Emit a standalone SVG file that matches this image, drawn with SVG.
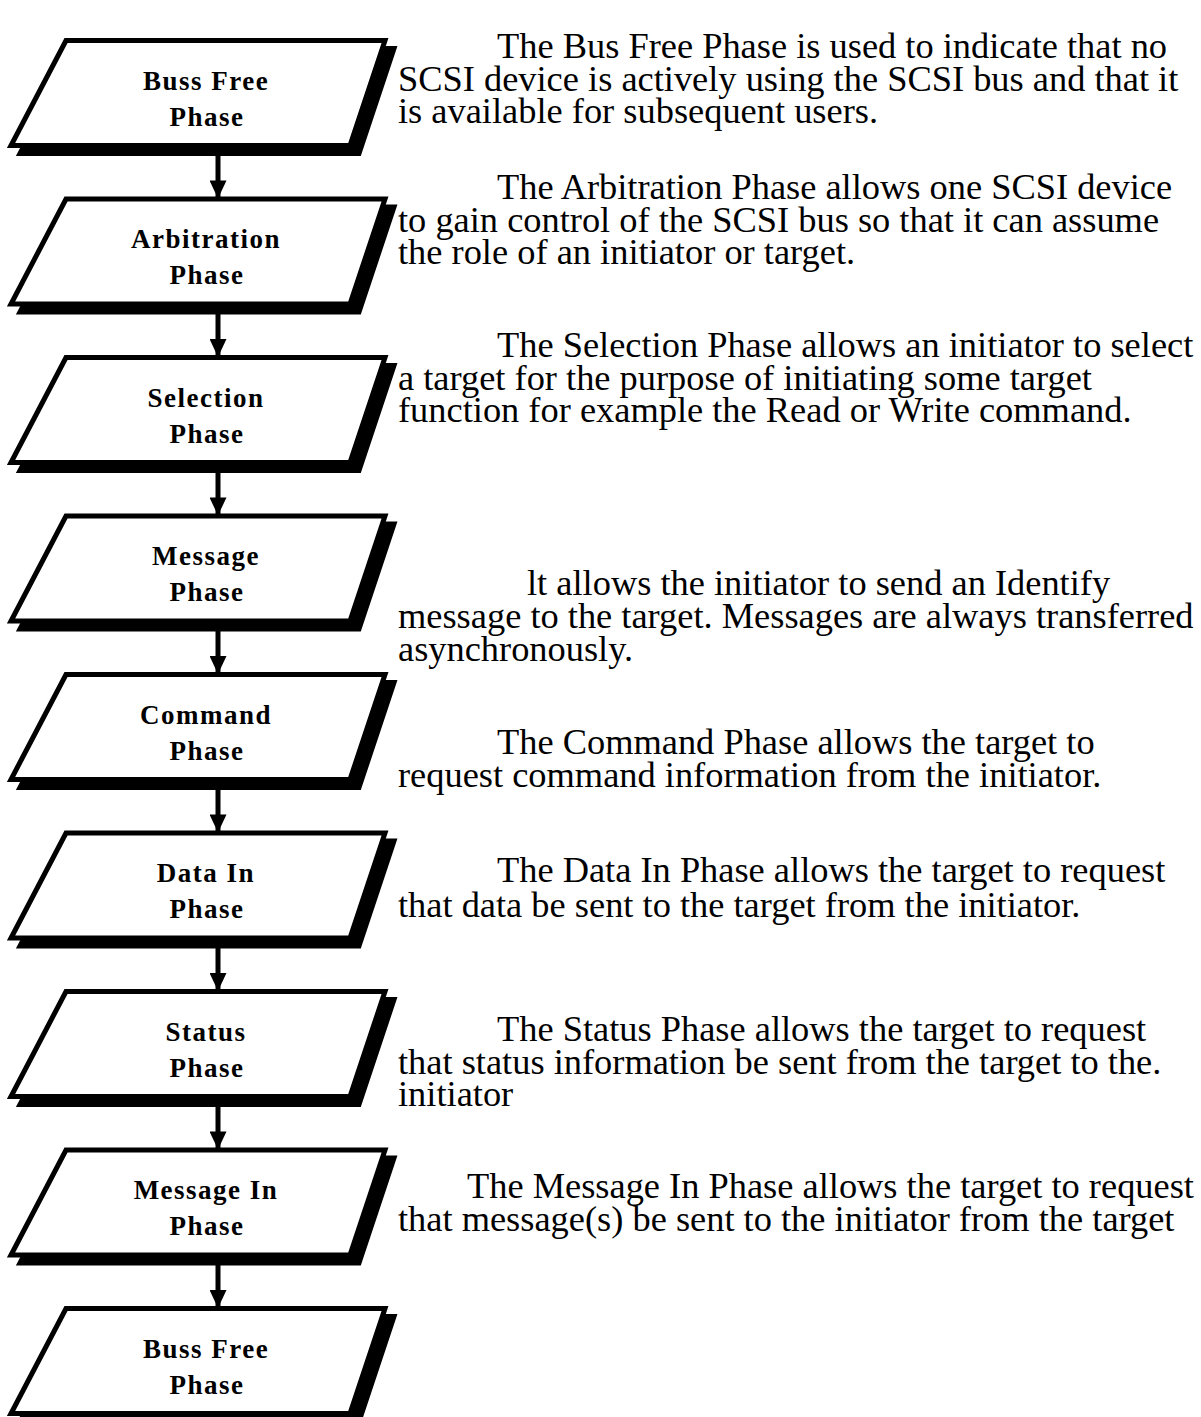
<svg xmlns="http://www.w3.org/2000/svg" width="1201" height="1417" viewBox="0 0 1201 1417">
<defs>
<style>
.shadow{fill:#000;stroke:#000;stroke-width:5;stroke-linejoin:miter}
.box{fill:#fff;stroke:#000;stroke-width:5;stroke-linejoin:miter}
.lbl{font-family:"Liberation Serif","Times New Roman",serif;font-weight:bold;font-size:27px;letter-spacing:1.5px;text-anchor:middle;fill:#000}
.body{font-family:"Liberation Serif","Times New Roman",serif;font-size:36.4px;fill:#000}
.conn{stroke:#000;stroke-width:5;fill:none}
</style>
<polygon id="shape" points="66,0 385,0 350,105 11,105"/>
<marker id="ah" markerUnits="userSpaceOnUse" markerWidth="20" markerHeight="17" refX="19.5" refY="9.5" orient="auto" viewBox="0 0 20 19">
<path d="M0,0 L20,9.5 L0,19 Z" fill="#000"/>
</marker>
</defs>
<rect width="1201" height="1417" fill="#fff"/>

<g id="connectors">
<line class="conn" x1="218" y1="142" x2="218" y2="198" marker-end="url(#ah)"/>
<line class="conn" x1="218" y1="300.5" x2="218" y2="356.5" marker-end="url(#ah)"/>
<line class="conn" x1="218" y1="459" x2="218" y2="515" marker-end="url(#ah)"/>
<line class="conn" x1="218" y1="617.5" x2="218" y2="673.5" marker-end="url(#ah)"/>
<line class="conn" x1="218" y1="776" x2="218" y2="832" marker-end="url(#ah)"/>
<line class="conn" x1="218" y1="934.5" x2="218" y2="990.5" marker-end="url(#ah)"/>
<line class="conn" x1="218" y1="1093" x2="218" y2="1149" marker-end="url(#ah)"/>
<line class="conn" x1="218" y1="1251.5" x2="218" y2="1307.5" marker-end="url(#ah)"/>
</g>

<g id="node1" transform="translate(0,40.5)">
<use href="#shape" class="shadow" transform="translate(9,8)"/>
<use href="#shape" class="box"/>
<text class="lbl" x="206" y="49">Buss Free</text>
<text class="lbl" x="207" y="85">Phase</text>
</g>
<g id="node2" transform="translate(0,199)">
<use href="#shape" class="shadow" transform="translate(9,8)"/>
<use href="#shape" class="box"/>
<text class="lbl" x="206" y="49">Arbitration</text>
<text class="lbl" x="207" y="85">Phase</text>
</g>
<g id="node3" transform="translate(0,357.5)">
<use href="#shape" class="shadow" transform="translate(9,8)"/>
<use href="#shape" class="box"/>
<text class="lbl" x="206" y="49">Selection</text>
<text class="lbl" x="207" y="85">Phase</text>
</g>
<g id="node4" transform="translate(0,516)">
<use href="#shape" class="shadow" transform="translate(9,8)"/>
<use href="#shape" class="box"/>
<text class="lbl" x="206" y="49">Message</text>
<text class="lbl" x="207" y="85">Phase</text>
</g>
<g id="node5" transform="translate(0,674.5)">
<use href="#shape" class="shadow" transform="translate(9,8)"/>
<use href="#shape" class="box"/>
<text class="lbl" x="206" y="49">Command</text>
<text class="lbl" x="207" y="85">Phase</text>
</g>
<g id="node6" transform="translate(0,833)">
<use href="#shape" class="shadow" transform="translate(9,8)"/>
<use href="#shape" class="box"/>
<text class="lbl" x="206" y="49">Data In</text>
<text class="lbl" x="207" y="85">Phase</text>
</g>
<g id="node7" transform="translate(0,991.5)">
<use href="#shape" class="shadow" transform="translate(9,8)"/>
<use href="#shape" class="box"/>
<text class="lbl" x="206" y="49">Status</text>
<text class="lbl" x="207" y="85">Phase</text>
</g>
<g id="node8" transform="translate(0,1150)">
<use href="#shape" class="shadow" transform="translate(9,8)"/>
<use href="#shape" class="box"/>
<text class="lbl" x="206" y="49">Message In</text>
<text class="lbl" x="207" y="85">Phase</text>
</g>
<g id="node9" transform="translate(0,1308.5)">
<use href="#shape" class="shadow" transform="translate(9,8)"/>
<use href="#shape" class="box"/>
<text class="lbl" x="206" y="49">Buss Free</text>
<text class="lbl" x="207" y="85">Phase</text>
</g>

<g id="descriptions" class="body">
<text><tspan x="497" y="58">The Bus Free Phase is used to indicate that no</tspan><tspan x="398" y="91">SCSI device is actively using the SCSI bus and that it</tspan><tspan x="398" y="123">is available for subsequent users.</tspan></text>

<text><tspan x="497" y="199">The Arbitration Phase allows one SCSI device</tspan><tspan x="398" y="232">to gain control of the SCSI bus so that it can assume</tspan><tspan x="398" y="264">the role of an initiator or target.</tspan></text>

<text><tspan x="497" y="357">The Selection Phase allows an initiator to select</tspan><tspan x="398" y="390">a target for the purpose of initiating some target</tspan><tspan x="398" y="422">function for example the Read or Write command.</tspan></text>

<text><tspan x="527" y="595">lt allows the initiator to send an Identify</tspan><tspan x="398" y="628">message to the target. Messages are always transferred</tspan><tspan x="398" y="661">asynchronously.</tspan></text>

<text><tspan x="497" y="754">The Command Phase allows the target to</tspan><tspan x="398" y="787">request command information from the initiator.</tspan></text>

<text><tspan x="497" y="882">The Data In Phase allows the target to request</tspan><tspan x="398" y="917">that data be sent to the target from the initiator.</tspan></text>

<text><tspan x="497" y="1041">The Status Phase allows the target to request</tspan><tspan x="398" y="1074">that status information be sent from the target to the.</tspan><tspan x="398" y="1106">initiator</tspan></text>

<text><tspan x="467" y="1198">The Message In Phase allows the target to request</tspan><tspan x="398" y="1231">that message(s) be sent to the initiator from the target</tspan></text>
</g>
</svg>
